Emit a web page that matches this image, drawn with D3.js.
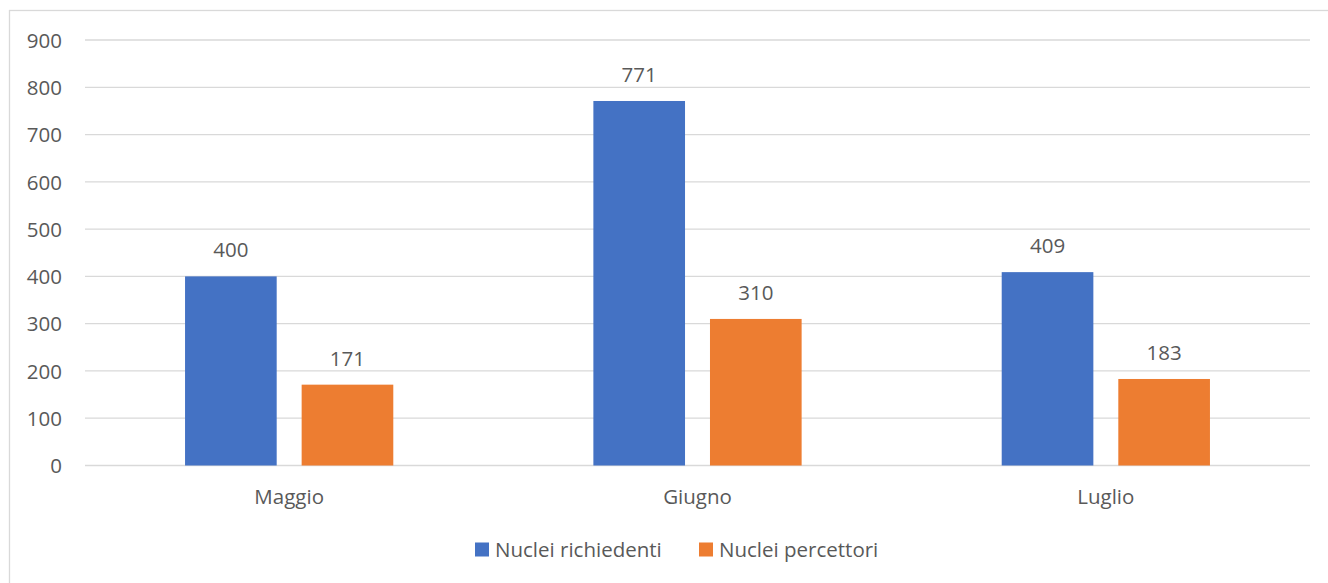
<!DOCTYPE html>
<html><head><meta charset="utf-8">
<script src="https://cdn.jsdelivr.net/npm/d3@7/dist/d3.min.js"></script>
<style>body{margin:0;background:#fff;} svg{display:block;} text{font-family:"Open Sans",Calibri,sans-serif;fill:#595959;}</style>
</head><body><svg id="c" width="1328" height="583"></svg>
<script>
const categories = ["Maggio", "Giugno", "Luglio"];
const seriesNames = ["Nuclei richiedenti", "Nuclei percettori"];
const richiedenti = [400, 771, 409];
const percettori = [171, 310, 183];
const yTicks = [0, 100, 200, 300, 400, 500, 600, 700, 800, 900];
const colors = ["#4472C4", "#ED7D31"];

const FS = 20.5;
const svg = d3.select("#c");
const W = 1328, H = 583;
const plot = {left: 85, right: 1310, top: 40, bottom: 465.5};

// chart border
svg.append("rect").attr("x", 9.5).attr("y", 10.5).attr("width", W + 10).attr("height", H + 10)
  .attr("fill", "none").attr("stroke", "#d9d9d9").attr("stroke-width", 1.3);

const y = d3.scaleLinear().domain([0, 900]).range([plot.bottom, plot.top]);
const x0 = d3.scaleBand().domain(categories).range([plot.left, plot.right]).paddingInner(0.49).paddingOuter(0.245);
const x1 = d3.scaleBand().domain(seriesNames).range([0, x0.bandwidth()]).paddingInner(0.214).paddingOuter(0);

// gridlines
svg.append("g").selectAll("line").data(yTicks).join("line")
  .attr("x1", plot.left).attr("x2", plot.right)
  .attr("y1", d => y(d)).attr("y2", d => y(d))
  .attr("stroke", "#d9d9d9").attr("stroke-width", 1.3);

// y axis labels
const yAxis = d3.axisLeft(y).tickValues(yTicks).tickSize(0).tickPadding(0);
const gy = svg.append("g").attr("transform", `translate(62,0)`).call(yAxis);
gy.select(".domain").remove();
gy.selectAll("text").attr("font-size", FS).attr("fill", "#595959").attr("font-family", '"Open Sans",sans-serif').attr("dy", "0.35em");

// x axis labels
const xAxis = d3.axisBottom(x0).tickSize(0).tickPadding(0);
const gx = svg.append("g").attr("transform", `translate(0,${plot.bottom})`).call(xAxis);
gx.select(".domain").remove();
gx.selectAll("text").attr("font-size", FS).attr("fill", "#595959").attr("font-family", '"Open Sans",sans-serif').attr("dy", null).attr("y", 38.5);

const series = [richiedenti, percettori];
const rows = categories.map((c, i) => ({cat: c, vals: seriesNames.map((s, j) => ({s, j, v: series[j][i]}))}));

const groups = svg.append("g").selectAll("g").data(rows).join("g")
  .attr("transform", d => `translate(${x0(d.cat)},0)`);
groups.selectAll("rect").data(d => d.vals).join("rect")
  .attr("x", d => x1(d.s)).attr("width", x1.bandwidth())
  .attr("y", d => y(d.v)).attr("height", d => y(0) - y(d.v))
  .attr("fill", d => colors[d.j]);
groups.selectAll("text").data(d => d.vals).join("text")
  .attr("x", d => x1(d.s) + x1.bandwidth() / 2)
  .attr("y", d => y(d.v) - 19)
  .attr("text-anchor", "middle").attr("font-size", FS)
  .text(d => d.v);

// legend
const legendX = [475, 699];
const lg = svg.append("g").selectAll("g").data(seriesNames).join("g")
  .attr("transform", (d, i) => `translate(${legendX[i]},0)`);
lg.append("rect").attr("x", 0).attr("y", 542.5).attr("width", 14).attr("height", 14).attr("fill", (d, i) => colors[i]);
lg.append("text").attr("x", 20).attr("y", 556.5).attr("font-size", FS).text(d => d);
</script></body></html>
